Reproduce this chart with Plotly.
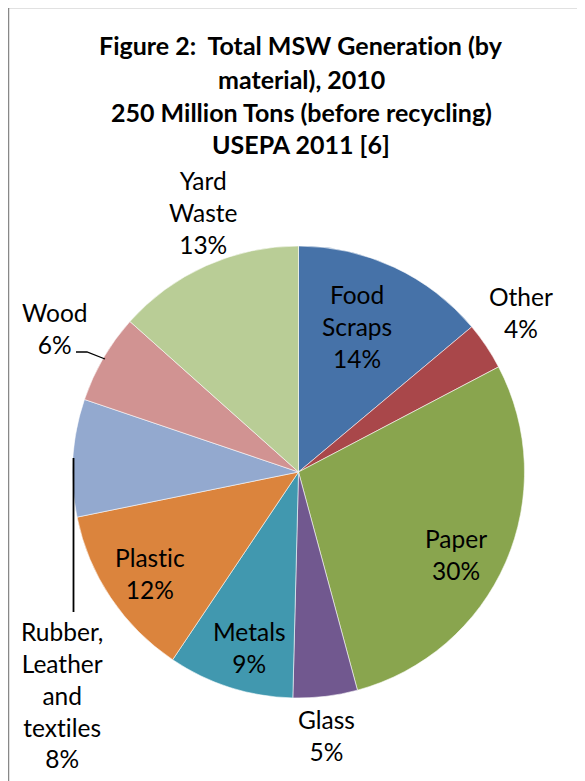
import plotly.graph_objects as go

# ---- data ----
materials = ["Food Scraps", "Other", "Paper", "Glass", "Metals", "Plastic",
             "Rubber, Leather and textiles", "Wood", "Yard Waste"]
label_lines = [["Food", "Scraps"], ["Other"], ["Paper"], ["Glass"], ["Metals"],
               ["Plastic"], ["Rubber,", "Leather", "and", "textiles"], ["Wood"],
               ["Yard", "Waste"]]
shares = [13.9, 3.4, 28.5, 4.6, 9.0, 12.4, 8.4, 6.4, 13.4]
pct_labels = ["14%", "4%", "30%", "5%", "9%", "12%", "8%", "6%", "13%"]
colors = ["#4672a8", "#a9474a", "#89a54e", "#71588f", "#4198af", "#db843d",
          "#93a9cf", "#d19392", "#b9cd96"]
title_lines = ["Figure 2:  Total MSW Generation (by", "material), 2010",
               "250 Million Tons (before recycling)", "USEPA 2011 [6]"]

W, H = 585, 781
OFF = 8  # page body margin offset


def px(x, y):
    return (x - OFF) / W, 1 - (y - OFF) / H


def nolig(s):
    # avoid the Lato "ti" ligature
    return s.replace("ti", "t\u200ci")


# layout positions (pixels) for label block centres
label_pos = [(357, 326), (521, 313), (456, 554), (327, 735), (249, 647),
             (150, 573), (62, 695), (55, 329), (203, 212)]

cx, cy, r = 298.5, 472, 226
x0p, y1p = px(cx - r, cy - r)
x1p, y0p = px(cx + r, cy + r)
fig = go.Figure(go.Pie(
    labels=materials, values=shares, sort=False, direction="clockwise",
    rotation=0, textinfo="none", hoverinfo="label+percent",
    marker=dict(colors=colors, line=dict(color="rgba(255,255,255,0.7)", width=0.8)),
    domain=dict(x=[x0p, x1p], y=[y0p, y1p]),
    showlegend=False,
))

font_fam = "Lato, 'Open Sans', sans-serif"
annotations = []
for lines, pct, (x, y) in zip(label_lines, pct_labels, label_pos):
    xp, yp = px(x, y)
    annotations.append(dict(
        x=xp, y=yp, xref="paper", yref="paper", showarrow=False,
        text="<br>".join([nolig(l) for l in lines] + [pct]), align="center",
        xanchor="center", yanchor="middle",
        font=dict(family=font_fam, size=24.5, color="black")))

title_y = [45, 79, 112, 144]
for t, y in zip(title_lines, title_y):
    xp, yp = px(301, y)
    annotations.append(dict(
        x=xp, y=yp, xref="paper", yref="paper", showarrow=False,
        text="<b>" + nolig(t) + "</b>", xanchor="center", yanchor="middle",
        font=dict(family=font_fam, size=25, color="black")))

shapes = []
# chart frame
fx0, fy0 = px(8.5, 7.5)
shapes.append(dict(type="line", xref="paper", yref="paper", x0=fx0, y0=fy0, x1=1.01, y1=fy0,
                   line=dict(color="#888888", width=1.5)))
shapes.append(dict(type="line", xref="paper", yref="paper", x0=fx0, y0=fy0, x1=fx0, y1=-0.01,
                   line=dict(color="#888888", width=1.5)))
# leader lines
a = px(76, 352); b = px(87, 352); c = px(105, 359)
shapes.append(dict(type="path", xref="paper", yref="paper",
                   path=f"M {a[0]} {a[1]} L {b[0]} {b[1]} L {c[0]} {c[1]}",
                   line=dict(color="black", width=1.3)))
d = px(73.5, 458); e = px(73.5, 612)
shapes.append(dict(type="line", xref="paper", yref="paper", x0=d[0], y0=d[1], x1=e[0], y1=e[1],
                   line=dict(color="black", width=1.8)))

fig.update_layout(
    width=W, height=H, margin=dict(l=0, r=0, t=0, b=0),
    paper_bgcolor="white", plot_bgcolor="white",
    annotations=annotations, shapes=shapes,
)
fig.write_html("out.html")
